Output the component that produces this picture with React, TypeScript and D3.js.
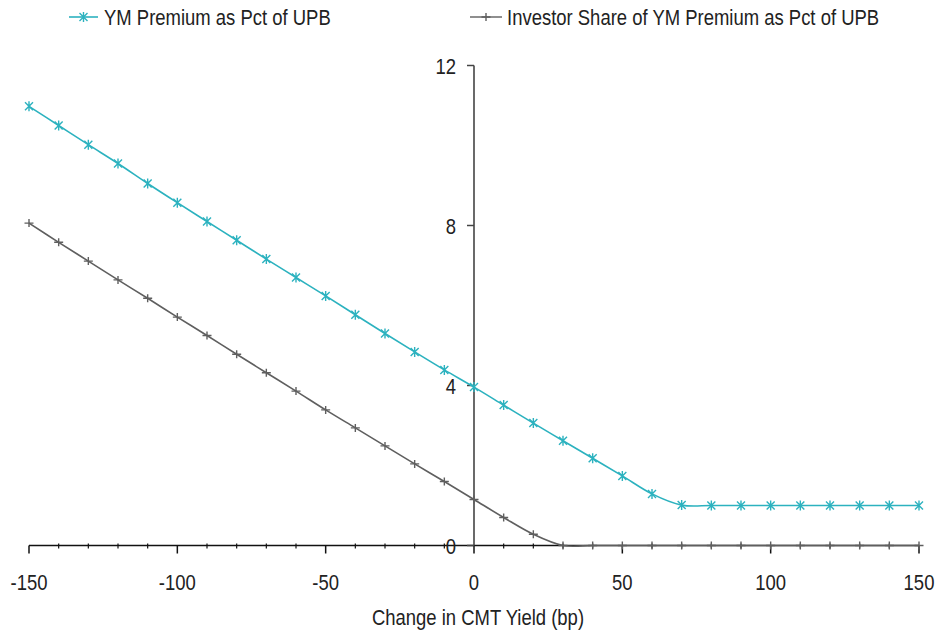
import * as d3 from 'd3';

// Change in CMT yield (bp)
const yieldShift = [
  -150, -140, -130, -120, -110, -100, -90, -80, -70, -60, -50, -40, -30, -20, -10, 0,
  10, 20, 30, 40, 50, 60, 70, 80, 90, 100, 110, 120, 130, 140, 150,
];

const ymPremium = [
  10.98, 10.5, 10.02, 9.55, 9.05, 8.57, 8.1, 7.63, 7.16, 6.7, 6.24, 5.77, 5.3, 4.84, 4.39, 3.96,
  3.51, 3.06, 2.62, 2.18, 1.74, 1.29, 1.01, 1.0, 1.0, 1.0, 1.0, 1.0, 1.0, 1.0, 1.0,
];

const investorShare = [
  8.06, 7.58, 7.11, 6.64, 6.18, 5.71, 5.25, 4.78, 4.32, 3.86, 3.39, 2.94, 2.49, 2.04, 1.6, 1.15,
  0.7, 0.28, 0.0, 0.0, 0.0, 0.0, 0.0, 0.0, 0.0, 0.0, 0.0, 0.0, 0.0, 0.0, 0.0,
];

const seriesNames = ['YM Premium as Pct of UPB', 'Investor Share of YM Premium as Pct of UPB'];
const xMajorTicks = [-150, -100, -50, 0, 50, 100, 150];
const yTicks = [0, 4, 8, 12];
const xTitle = 'Change in CMT Yield (bp)';

const W = 936;
const H = 632;
const CYAN = '#2cb2bf';
const GRAY = '#5f5f5f';
const FONT = '"Liberation Sans", Arial, sans-serif';
const SQUEEZE = 0.84; // the original uses a narrow face, emulate it

const starPath = 'M-4,-4L4,4M-4,4L4,-4M0,-5L0,5';
const plusPath = 'M-4.5,0L4.5,0M0,-4L0,4';

function Label({ x, y, anchor = 'start', children }: { x: number; y: number; anchor?: string; children: any }) {
  return (
    <g transform={`translate(${x},${y}) scale(${SQUEEZE},1)`}>
      <text textAnchor={anchor} fontSize={22} fill="#222">{children}</text>
    </g>
  );
}

export default function App() {
  const x = d3.scaleLinear().domain([-150, 150]).range([29, 919]);
  const y = d3.scaleLinear().domain([0, 12]).range([545.5, 65.5]);

  const line = d3
    .line<number>()
    .x((_, i) => x(yieldShift[i]))
    .y((d) => y(d))
    .curve(d3.curveCardinal.tension(0));

  const minorTicks = yieldShift.filter((v) => !xMajorTicks.includes(v));
  const x0 = x(0);

  return (
    <svg
      width={W}
      height={H}
      style={{ position: 'absolute', left: 0, top: 0, background: '#fff' }}
      fontFamily={FONT}
    >
      {/* legend */}
      <g>
        <line x1={69} x2={98} y1={17} y2={17} stroke={CYAN} strokeWidth={1.6} />
        <path d={starPath} transform="translate(83.5,17)" stroke={CYAN} strokeWidth={1.4} fill="none" />
        <Label x={104} y={25}>{seriesNames[0]}</Label>
        <line x1={470} x2={502} y1={17} y2={17} stroke={GRAY} strokeWidth={1.4} />
        <path d={plusPath} transform="translate(486,17)" stroke={GRAY} strokeWidth={1.4} fill="none" />
        <Label x={507} y={25}>{seriesNames[1]}</Label>
      </g>

      {/* x axis */}
      <g>
        <line x1={x(-150)} x2={x(150)} y1={y(0)} y2={y(0)} stroke="#111" strokeWidth={1.5} />
        {xMajorTicks.map((t) => (
          <g key={t}>
            <line x1={x(t)} x2={x(t)} y1={y(0)} y2={y(0) + 8} stroke="#111" strokeWidth={1.5} />
            <Label x={x(t)} y={590} anchor="middle">{t}</Label>
          </g>
        ))}
        {minorTicks.map((t) => (
          <line key={t} x1={x(t)} x2={x(t)} y1={y(0) - 2} y2={y(0) + 3} stroke="#111" strokeWidth={1.2} />
        ))}
        <Label x={478} y={625} anchor="middle">{xTitle}</Label>
      </g>

      {/* y axis */}
      <g>
        <line x1={x0} x2={x0} y1={y(12)} y2={y(0)} stroke="#444" strokeWidth={1.6} />
        {yTicks.map((t) => (
          <g key={t}>
            <line x1={x0 - 7} x2={x0} y1={y(t)} y2={y(t)} stroke="#444" strokeWidth={1.5} />
            <Label x={456} y={y(t) + 8} anchor="end">{t}</Label>
          </g>
        ))}
      </g>

      {/* series */}
      <path d={line(investorShare) || ''} fill="none" stroke={GRAY} strokeWidth={1.6} />
      {investorShare.map((v, i) => (
        <path key={i} d={plusPath} transform={`translate(${x(yieldShift[i])},${y(v)})`} stroke={GRAY} strokeWidth={1.4} fill="none" />
      ))}
      <path d={line(ymPremium) || ''} fill="none" stroke={CYAN} strokeWidth={1.6} />
      {ymPremium.map((v, i) => (
        <path key={i} d={starPath} transform={`translate(${x(yieldShift[i])},${y(v)})`} stroke={CYAN} strokeWidth={1.4} fill="none" />
      ))}
    </svg>
  );
}
